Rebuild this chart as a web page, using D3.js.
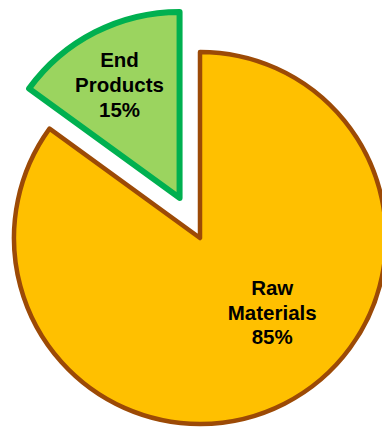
<!DOCTYPE html>
<html><head><meta charset="utf-8">
<script src="https://cdn.jsdelivr.net/npm/d3@7"></script>
<style>body{margin:0;background:#fff}svg{display:block}</style>
</head><body>
<svg id="c" width="382" height="427"></svg>
<script>
const categories = ["Raw Materials", "End Products"];
const labelLines = [["Raw", "Materials"], ["End", "Products"]];
const values = [85, 15];
const fills = ["#FFC000", "#9BD45F"];
const strokes = ["#9C4A06", "#00B050"];

const svg = d3.select("#c");
const cx = 200, cy = 238, R = 186;
const explode = [0, 45];
const strokeW = [4.5, 6];

const pie = d3.pie().sort(null).value(d => d)(values);
const arc = d3.arc().innerRadius(0).outerRadius(R);
const total = d3.sum(values);

const g = svg.append("g").attr("transform", `translate(${cx},${cy})`);
pie.forEach((p, i) => {
  const mid = (p.startAngle + p.endAngle) / 2;
  const dx = Math.sin(mid) * explode[i], dy = -Math.cos(mid) * explode[i];
  const sg = g.append("g").attr("transform", `translate(${dx},${dy})`);
  sg.append("path").attr("d", arc(p))
    .attr("fill", fills[i]).attr("stroke", strokes[i])
    .attr("stroke-width", strokeW[i]).attr("stroke-linejoin", "round");
  let la, lr;
  if (i === 0) { la = mid - 17 * Math.PI / 180; lr = 104; }
  else { la = mid - 1 * Math.PI / 180; lr = 128; }
  const lx = Math.sin(la) * lr, ly = -Math.cos(la) * lr;
  const lines = labelLines[i].concat([Math.round(p.value / total * 100) + "%"]);
  const lh = i === 0 ? 24.5 : 25;
  const t = sg.append("text").attr("text-anchor", "middle")
    .attr("font-family", "Liberation Sans, Arial, sans-serif")
    .attr("font-weight", "bold").attr("font-size", 20.5).attr("fill", "#000");
  lines.forEach((s, k) => {
    t.append("tspan").attr("x", lx)
      .attr("y", ly + (k - (lines.length - 1) / 2) * lh)
      .attr("dy", "0.35em").text(s);
  });
});
</script>
</body></html>
